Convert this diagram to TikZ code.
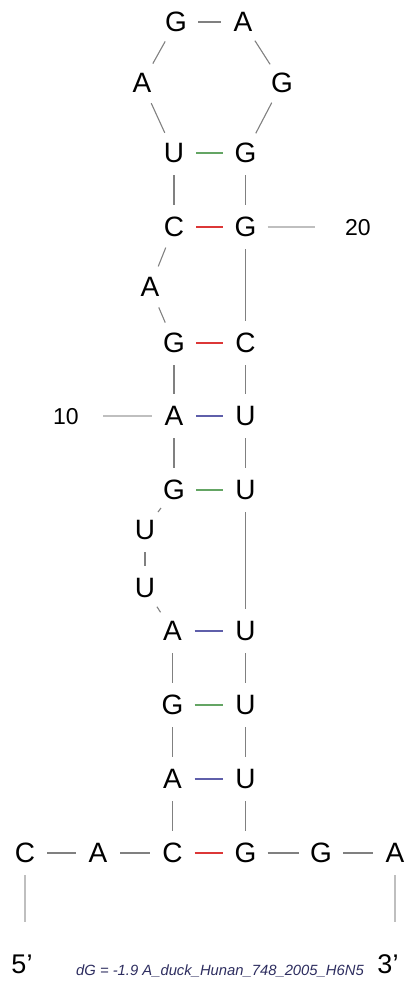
\documentclass[tikz,border=0pt]{standalone}
\usepackage{fontspec}
\setmainfont{Liberation Sans}
\begin{document}
\begin{tikzpicture}[x=1pt,y=-1pt,
  base/.style={circle,minimum size=44pt,inner sep=0pt,font=\fontsize{28}{28}\selectfont},
  bb/.style={draw=black!50,line width=1.1pt},
  numline/.style={draw=black!25,line width=1.1pt},
  gu/.style={draw={rgb,255:red,100;green,165;blue,100},line width=1.3pt},
  gc/.style={draw={rgb,255:red,220;green,55;blue,55},line width=1.3pt},
  au/.style={draw={rgb,255:red,95;green,95;blue,170},line width=1.3pt},
  numlab/.style={font=\fontsize{23}{23}\selectfont},
  endlab/.style={font=\fontsize{27}{27}\selectfont}]
\useasboundingbox (0,0) rectangle (408,991);
\node[base] (n1) at (25,853) {C};
\node[base] (n2) at (98,853) {A};
\node[base] (n3) at (172.5,853) {C};
\node[base] (n4) at (172.5,779) {A};
\node[base] (n5) at (172.5,705) {G};
\node[base] (n6) at (172.5,631) {A};
\node[base] (n7) at (145,588) {U};
\node[base] (n8) at (145,530) {U};
\node[base] (n9) at (174,490) {G};
\node[base] (n10) at (174,416) {A};
\node[base] (n11) at (174,343) {G};
\node[base] (n12) at (150,287) {A};
\node[base] (n13) at (174,227) {C};
\node[base] (n14) at (174,153) {U};
\node[base] (n15) at (142,83) {A};
\node[base] (n16) at (176,22) {G};
\node[base] (n17) at (243,22) {A};
\node[base] (n18) at (282,83) {G};
\node[base] (n19) at (245.5,153) {G};
\node[base] (n20) at (245.5,227) {G};
\node[base] (n21) at (245.5,343) {C};
\node[base] (n22) at (245.5,416) {U};
\node[base] (n23) at (245.5,490) {U};
\node[base] (n24) at (245.5,631) {U};
\node[base] (n25) at (245.5,705) {U};
\node[base] (n26) at (245.5,779) {U};
\node[base] (n27) at (245.5,853) {G};
\node[base] (n28) at (321,853) {G};
\node[base] (n29) at (395,853) {A};
% backbone
\foreach \a/\b in {1/2,2/3,3/4,4/5,5/6,6/7,7/8,8/9,9/10,10/11,11/12,12/13,13/14,14/15,15/16,16/17,17/18,18/19,19/20,20/21,21/22,22/23,23/24,24/25,25/26,26/27,27/28,28/29}
  \draw[bb] (n\a) -- (n\b);
% base pairs
\draw[gc] (n3) -- (n27);
\draw[au] (n4) -- (n26);
\draw[gu] (n5) -- (n25);
\draw[au] (n6) -- (n24);
\draw[gu] (n9) -- (n23);
\draw[au] (n10) -- (n22);
\draw[gc] (n11) -- (n21);
\draw[gc] (n13) -- (n20);
\draw[gu] (n14) -- (n19);
% numbering
\coordinate (c20) at (315,227);
\coordinate (c10) at (103,416);
\draw[numline] (n20) -- (c20);
\draw[numline] (n10) -- (c10);
\node[numlab] (l20) at (358,228) {20};
\node[numlab] (l10) at (66,417) {10};
% ends
\coordinate (e5) at (25,922);
\coordinate (e3) at (395,922);
\draw[numline] (n1) -- (e5);
\draw[numline] (n29) -- (e3);
\node[endlab] (p5) at (22,964) {5’};
\node[endlab] (p3) at (388,964) {3’};
\node[font=\fontsize{14.8}{14.8}\selectfont\itshape,text={rgb,255:red,45;green,45;blue,95}] (title) at (220,971) {dG = -1.9 A\_duck\_Hunan\_748\_2005\_H6N5};
\end{tikzpicture}
\end{document}
